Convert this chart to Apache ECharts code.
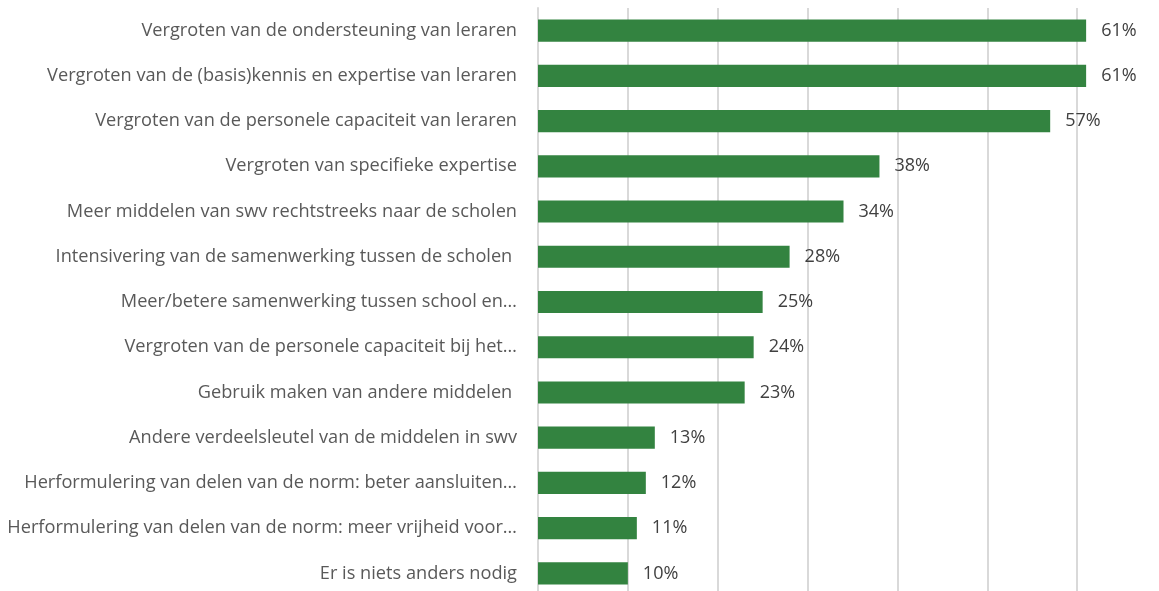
<!DOCTYPE html>
<html>
<head>
<meta charset="utf-8">
<script src="https://cdn.jsdelivr.net/npm/echarts@6/dist/echarts.min.js"></script>
<style>html,body{margin:0;padding:0;background:#fff;}#c{width:1159px;height:591px;}</style>
</head>
<body>
<div id="c"></div>
<script>
const categories = [
  "Vergroten van de ondersteuning van leraren",
  "Vergroten van de (basis)kennis en expertise van leraren",
  "Vergroten van de personele capaciteit van leraren",
  "Vergroten van specifieke expertise",
  "Meer middelen van swv rechtstreeks naar de scholen",
  "Intensivering van de samenwerking tussen de scholen ",
  "Meer/betere samenwerking tussen school en…",
  "Vergroten van de personele capaciteit bij het…",
  "Gebruik maken van andere middelen ",
  "Andere verdeelsleutel van de middelen in swv",
  "Herformulering van delen van de norm: beter aansluiten…",
  "Herformulering van delen van de norm: meer vrijheid voor…",
  "Er is niets anders nodig"
];
const values = [61, 61, 57, 38, 34, 28, 25, 24, 23, 13, 12, 11, 10];

const chart = echarts.init(document.getElementById('c'));
chart.setOption({
  animation: false,
  grid: { left: 538, top: 8, width: 629, height: 588, containLabel: false, outerBoundsMode: 'none' },
  xAxis: {
    type: 'value', min: 0, max: 70, interval: 10,
    axisLabel: { show: false }, axisTick: { show: false }, axisLine: { show: false },
    splitLine: { lineStyle: { color: '#d9d9d9', width: 2 } }
  },
  yAxis: {
    type: 'category', data: categories, inverse: true,
    axisLine: { show: true, lineStyle: { color: '#d9d9d9', width: 2 } },
    axisTick: { show: false },
    axisLabel: { color: '#595959', fontSize: 18.2, fontFamily: 'Open Sans', margin: 21 }
  },
  series: [{
    type: 'bar', data: values, barCategoryGap: '51%',
    itemStyle: { color: '#338340' },
    label: { show: true, position: 'right', distance: 15, formatter: '{c}%', color: '#404040', fontSize: 18, fontFamily: 'Open Sans' }
  }]
});
</script>
</body>
</html>
